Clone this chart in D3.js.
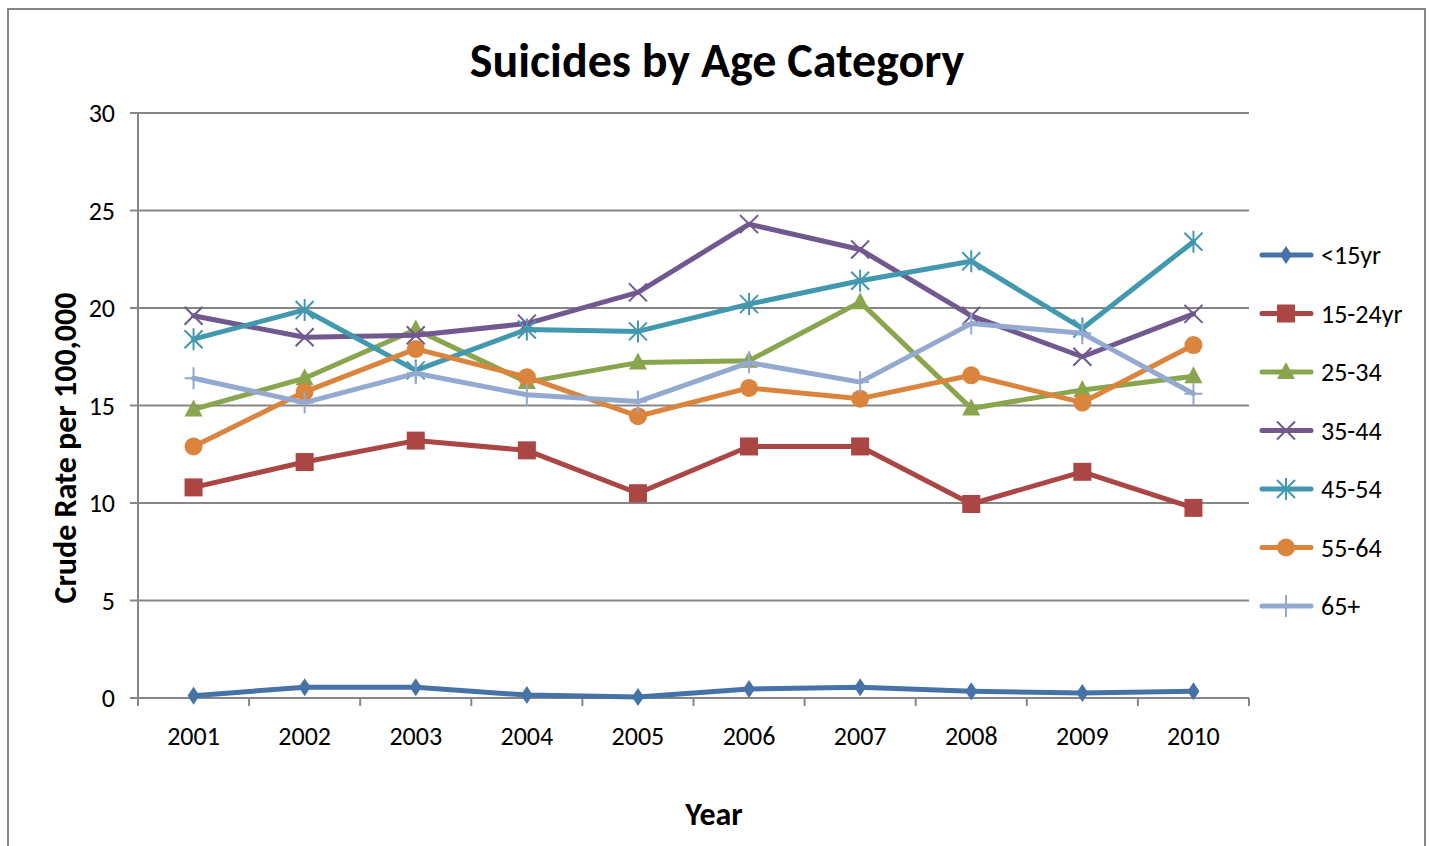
<!DOCTYPE html>
<html>
<head>
<meta charset="utf-8">
<script src="https://cdn.jsdelivr.net/npm/d3@7"></script>
<style>
  body { margin: 0; background: #fff; }
  svg { font-family: Carlito, Calibri, "Open Sans", sans-serif; }
</style>
</head>
<body>
<svg id="chart" width="1429" height="846"></svg>
<script>
const years = ["2001", "2002", "2003", "2004", "2005", "2006", "2007", "2008", "2009", "2010"];
const yTicks = [0, 5, 10, 15, 20, 25, 30];

const under15 = [0.12, 0.55, 0.55, 0.15, 0.05, 0.46, 0.55, 0.35, 0.26, 0.35];
const age15to24 = [10.8, 12.1, 13.2, 12.7, 10.5, 12.9, 12.9, 9.95, 11.6, 9.75];
const age25to34 = [14.8, 16.4, 18.9, 16.2, 17.2, 17.3, 20.3, 14.85, 15.8, 16.5];
const age35to44 = [19.6, 18.5, 18.6, 19.2, 20.8, 24.3, 23.0, 19.6, 17.5, 19.7];
const age45to54 = [18.4, 19.9, 16.8, 18.9, 18.8, 20.2, 21.4, 22.4, 18.95, 23.4];
const age55to64 = [12.9, 15.7, 17.9, 16.45, 14.45, 15.9, 15.35, 16.55, 15.15, 18.1];
const age65plus = [16.4, 15.15, 16.65, 15.55, 15.2, 17.2, 16.2, 19.2, 18.7, 15.6];

const seriesNames = ["<15yr", "15-24yr", "25-34", "35-44", "45-54", "55-64", "65+"];
const seriesValues = [under15, age15to24, age25to34, age35to44, age45to54, age55to64, age65plus];
const colors = ["#4572A7", "#AA4643", "#89A54E", "#71588F", "#4198AF", "#DB843D", "#93A9CF"];
const markers = ["diamond", "square", "triangle", "x", "star", "circle", "plus"];

const svg = d3.select("#chart");
const gridColor = "#868686";

// outer frame
svg.append("rect")
  .attr("x", 8).attr("y", 9)
  .attr("width", 1417).attr("height", 850)
  .attr("fill", "none").attr("stroke", gridColor).attr("stroke-width", 2);

const plotLeft = 138, plotRight = 1249, plotTop = 113, plotBottom = 698;

const x = d3.scaleBand().domain(years).range([plotLeft, plotRight]).paddingInner(0).paddingOuter(0);
const y = d3.scaleLinear().domain([0, 30]).range([plotBottom, plotTop]);
const cx = d => x(d) + x.bandwidth() / 2;

// gridlines
svg.append("g").selectAll("line")
  .data(yTicks)
  .join("line")
  .attr("x1", plotLeft - 8).attr("x2", plotRight)
  .attr("y1", d => y(d)).attr("y2", d => y(d))
  .attr("stroke", gridColor).attr("stroke-width", 2);

// y axis line
svg.append("line")
  .attr("x1", plotLeft).attr("x2", plotLeft)
  .attr("y1", plotTop).attr("y2", plotBottom)
  .attr("stroke", gridColor).attr("stroke-width", 2);

// x ticks at category edges
const edges = years.map(d => x(d)).concat([plotRight]);
svg.append("g").selectAll("line")
  .data(edges)
  .join("line")
  .attr("x1", d => d).attr("x2", d => d)
  .attr("y1", plotBottom).attr("y2", plotBottom + 8)
  .attr("stroke", gridColor).attr("stroke-width", 2);

// y tick labels
svg.append("g").selectAll("text")
  .data(yTicks)
  .join("text")
  .attr("x", 115).attr("y", d => y(d) + 9)
  .attr("text-anchor", "end")
  .attr("font-size", 26)
  .text(d => d);

// x tick labels
svg.append("g").selectAll("text")
  .data(years)
  .join("text")
  .attr("x", d => cx(d)).attr("y", 745)
  .attr("text-anchor", "middle")
  .attr("font-size", 26)
  .text(d => d);

// titles
svg.append("text")
  .attr("x", 717).attr("y", 77)
  .attr("text-anchor", "middle")
  .attr("font-size", 48).attr("font-weight", "bold")
  .text("Suicides by Age Category");

svg.append("text")
  .attr("x", 714).attr("y", 825)
  .attr("text-anchor", "middle")
  .attr("font-size", 32).attr("font-weight", "bold")
  .text("Year");

svg.append("text")
  .attr("transform", "translate(76,448) rotate(-90)")
  .attr("text-anchor", "middle")
  .attr("font-size", 32).attr("font-weight", "bold")
  .text("Crude Rate per 100,000");

function drawMarker(g, type, color) {
  if (type === "diamond") {
    g.append("path").attr("d", "M0,-9L6,0L0,9L-6,0Z").attr("fill", color);
  } else if (type === "square") {
    g.append("rect").attr("x", -9).attr("y", -9).attr("width", 18).attr("height", 18).attr("fill", color);
  } else if (type === "triangle") {
    g.append("path").attr("d", "M0,-10L9,7L-9,7Z").attr("fill", color);
  } else if (type === "circle") {
    g.append("circle").attr("r", 9).attr("fill", color);
  } else if (type === "x") {
    g.append("path").attr("d", "M-9,-9L9,9M-9,9L9,-9").attr("stroke", color).attr("stroke-width", 2);
  } else if (type === "star") {
    g.append("path").attr("d", "M-9,-9L9,9M-9,9L9,-9M0,-11L0,11").attr("stroke", color).attr("stroke-width", 2);
  } else if (type === "plus") {
    g.append("path").attr("d", "M0,-11L0,11M-9,0L9,0").attr("stroke", color).attr("stroke-width", 2);
  }
}

const line = d3.line()
  .x((d, i) => cx(years[i]))
  .y(d => y(d));

seriesValues.forEach((vals, s) => {
  const g = svg.append("g");
  g.append("path")
    .datum(vals)
    .attr("fill", "none")
    .attr("stroke", colors[s])
    .attr("stroke-width", 5)
    .attr("stroke-linejoin", "round")
    .attr("stroke-linecap", "round")
    .attr("d", line);
  vals.forEach((v, i) => {
    const m = g.append("g").attr("transform", `translate(${cx(years[i])},${y(v)})`);
    drawMarker(m, markers[s], colors[s]);
  });
});

// legend
const legend = svg.append("g");
seriesNames.forEach((name, s) => {
  const ly = 255 + s * 58.5;
  legend.append("line")
    .attr("x1", 1262).attr("x2", 1311)
    .attr("y1", ly).attr("y2", ly)
    .attr("stroke", colors[s]).attr("stroke-width", 5)
    .attr("stroke-linecap", "round");
  const m = legend.append("g").attr("transform", `translate(1286,${ly})`);
  drawMarker(m, markers[s], colors[s]);
  legend.append("text")
    .attr("x", 1321).attr("y", ly + 9)
    .attr("font-size", 26)
    .text(name);
});
</script>
</body>
</html>
